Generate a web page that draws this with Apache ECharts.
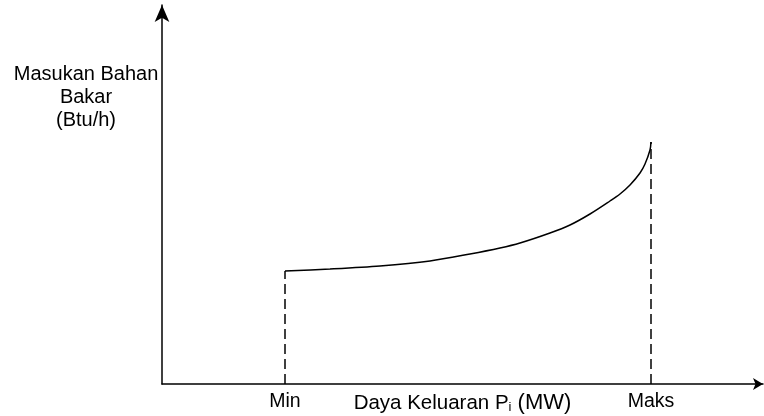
<!DOCTYPE html>
<html>
<head>
<meta charset="utf-8">
<script src="https://cdn.jsdelivr.net/npm/echarts@6/dist/echarts.min.js"></script>
<style>html,body{margin:0;padding:0;background:#fff}#c{width:764px;height:416px}</style>
</head>
<body>
<div id="c"></div>
<script>
// Power output (abstract units) vs fuel input (abstract units)
const outputP = [123, 168, 218, 268, 308, 338, 358, 388, 408, 428, 448, 458, 468, 478, 483, 488, 489];
const fuelIn  = [113, 115, 118, 123, 130, 136, 141, 151, 159, 170, 183, 190, 199, 211, 220, 234, 242];
const xTickValues = [123, 489];
const xTickLabels = ['Min', 'Maks'];
const yTitleLines = ['Masukan Bahan', 'Bakar', '(Btu/h)'];

const curve = outputP.map((x, i) => [x, fuelIn[i]]);
const first = curve[0], last = curve[curve.length - 1];

const chart = echarts.init(document.getElementById('c'), null, {renderer: 'canvas'});
const FONT = '"Liberation Sans", Arial, sans-serif';
chart.setOption({
  animation: false,
  backgroundColor: '#fff',
  grid: {left: 162, right: 1, top: 5, bottom: 32, containLabel: false, outerBoundsMode: 'none'},
  title: {
    text: yTitleLines.join('\n'),
    left: 81, top: 58, textAlign: 'center',
    textStyle: {fontFamily: FONT, fontSize: 20, fontWeight: 'normal', color: '#000', lineHeight: 23, align: 'center'}
  },
  xAxis: {
    type: 'value', min: 0, max: 601,
    splitLine: {show: false},
    axisLine: {lineStyle: {color: '#000', width: 1.5}, symbol: ['none', 'arrow'], symbolSize: [9, 10]},
    axisTick: {show: false},
    axisLabel: {
      customValues: xTickValues,
      formatter: v => xTickLabels[xTickValues.indexOf(v)],
      fontFamily: FONT, fontSize: 19.5, color: '#000', margin: 8
    },
    name: '{a|Daya Keluaran P}{s|i}{b| (MW)}',
    nameLocation: 'middle', nameGap: 8, nameMoveOverlap: false,
    nameTextStyle: {
      verticalAlign: 'top',
      rich: {
        a: {fontFamily: FONT, fontSize: 20.5, color: '#000'},
        s: {fontFamily: FONT, fontSize: 13, color: '#000', verticalAlign: 'bottom', padding: [8, 0, 0, 0]},
        b: {fontFamily: FONT, fontSize: 22, color: '#000'}
      }
    }
  },
  yAxis: {
    type: 'value', min: 0, max: 379,
    splitLine: {show: false},
    axisLine: {lineStyle: {color: '#000', width: 1.5}, symbol: ['none', 'arrow'], symbolSize: [11, 17]},
    axisTick: {show: false},
    axisLabel: {show: false}
  },
  series: [
    {type: 'line', data: curve, smooth: 0.3, showSymbol: false,
     lineStyle: {color: '#000', width: 1.5}},
    {type: 'line', data: [[first[0], 0], first], showSymbol: false,
     lineStyle: {color: '#000', width: 1.5, type: [10, 5]}},
    {type: 'line', data: [[last[0], 0], last], showSymbol: false,
     lineStyle: {color: '#000', width: 1.5, type: [10, 5]}}
  ]
});
</script>
</body>
</html>
